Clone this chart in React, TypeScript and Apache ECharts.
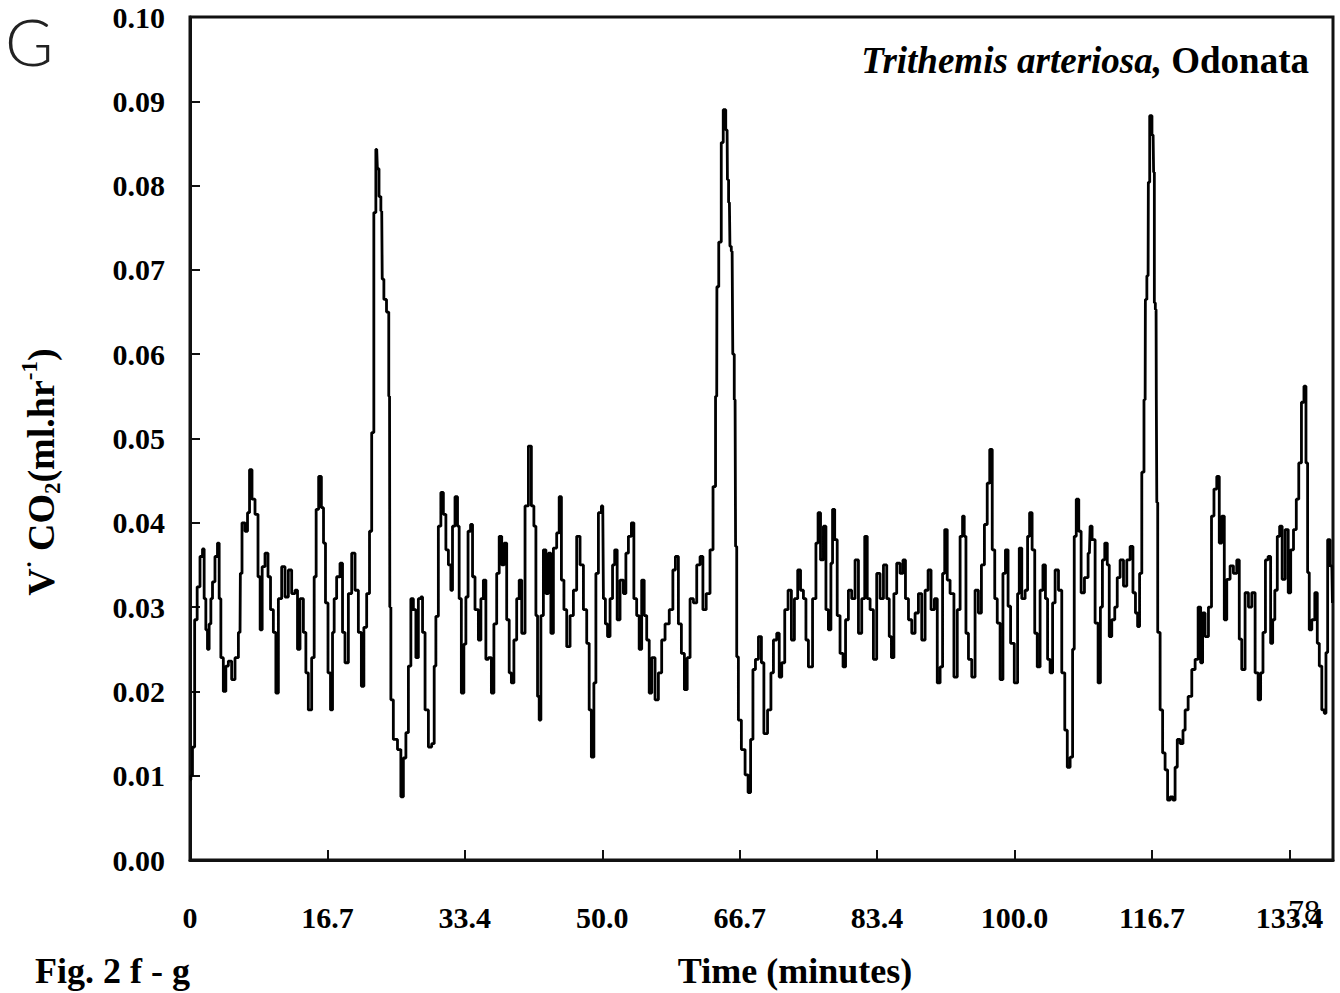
import React, { useEffect, useRef } from "react";
import * as echarts from "echarts";

// Time (minutes)
const TIME_MIN = [
  0.00, 0.20, 0.40, 0.73, 1.01, 1.42, 1.62, 1.82, 2.03, 2.22, 2.43, 2.64, 2.83, 3.24, 3.44, 3.65, 3.85, 4.25, 4.46, 4.86,
  5.26, 5.68, 6.08, 6.16, 6.48, 6.89, 7.09, 7.38, 7.69, 8.11, 8.42, 8.63, 8.91, 9.32, 9.64, 9.93, 10.33, 10.54, 10.94, 11.34,
  11.75, 12.15, 12.56, 12.97, 13.16, 13.58, 13.98, 14.18, 14.58, 14.99, 15.19, 15.47, 15.80, 16.13, 16.32, 16.61, 16.93, 17.22, 17.42, 17.62,
  18.02, 18.44, 18.63, 19.04, 19.45, 19.85, 20.26, 20.66, 20.99, 21.27, 21.67, 21.96, 22.20, 22.48, 22.69, 22.85, 23.09, 23.30, 23.42, 23.70,
  24.06, 24.25, 24.31, 24.51, 24.91, 25.52, 25.73, 26.13, 26.34, 26.74, 26.94, 27.35, 27.55, 27.95, 28.16, 28.36, 28.77, 29.17, 29.57, 29.78,
  29.98, 30.38, 30.59, 30.99, 31.20, 31.60, 31.80, 32.00, 32.41, 32.61, 32.81, 33.14, 33.42, 33.63, 33.95, 34.24, 34.43, 34.84, 35.25, 35.45,
  35.85, 36.06, 36.46, 36.79, 37.07, 37.47, 37.68, 38.08, 38.28, 38.69, 38.89, 39.22, 39.50, 39.90, 40.11, 40.51, 40.92, 41.32, 41.65, 41.93,
  42.14, 42.33, 42.54, 42.74, 43.15, 43.35, 43.75, 43.96, 44.36, 44.76, 44.97, 45.30, 45.58, 45.98, 46.39, 46.79, 47.19, 47.61, 48.01, 48.41,
  48.61, 48.94, 49.22, 49.43, 49.83, 50.16, 50.32, 50.64, 50.84, 51.25, 51.45, 51.77, 52.05, 52.47, 52.87, 53.07, 53.48, 53.80, 54.08, 54.48,
  54.69, 55.09, 55.30, 55.70, 55.91, 56.31, 56.72, 57.12, 57.52, 57.94, 58.54, 58.82, 59.15, 59.55, 59.88, 60.28, 60.56, 60.98, 61.38, 61.78,
  62.19, 62.47, 62.99, 63.40, 63.72, 64.01, 64.05, 64.46, 64.66, 64.94, 65.27, 65.35, 65.55, 65.68, 65.88, 66.04, 66.24, 66.36, 66.52, 66.76,
  67.25, 67.66, 67.98, 68.27, 68.55, 68.88, 69.28, 69.60, 69.88, 70.49, 70.70, 71.10, 71.50, 71.71, 72.11, 72.44, 72.92, 73.25, 73.65, 74.05,
  74.34, 74.75, 74.95, 75.35, 75.96, 76.17, 76.48, 76.77, 77.18, 77.38, 77.78, 77.99, 78.18, 78.51, 78.79, 79.20, 79.52, 79.81, 80.21, 80.61,
  81.03, 81.43, 81.83, 82.16, 82.44, 82.85, 83.25, 83.65, 84.07, 84.47, 84.87, 85.08, 85.40, 85.68, 86.08, 86.50, 86.78, 87.11, 87.51, 87.91,
  88.32, 88.72, 89.12, 89.54, 89.85, 90.26, 90.67, 90.95, 91.36, 91.55, 91.88, 92.16, 92.57, 93.10, 93.38, 93.79, 93.98, 94.19, 94.40, 94.80,
  95.20, 95.61, 96.01, 96.34, 96.74, 97.02, 97.35, 97.63, 97.96, 98.24, 98.65, 98.93, 99.26, 99.57, 99.87, 100.47, 100.67, 100.88, 101.28, 101.69,
  101.88, 102.18, 102.49, 102.82, 103.10, 103.51, 103.79, 104.12, 104.31, 104.73, 104.92, 105.34, 105.74, 106.14, 106.47, 106.75, 107.16, 107.35, 107.56, 107.84,
  108.17, 108.41, 108.98, 109.30, 109.47, 109.78, 110.20, 110.51, 110.76, 111.00, 111.33, 111.61, 111.81, 112.22, 112.54, 112.82, 113.24, 113.64, 114.04, 114.45,
  114.73, 115.06, 115.25, 115.54, 115.79, 116.07, 116.13, 116.43, 116.49, 116.76, 117.04, 117.16, 117.22, 117.40, 117.46, 117.52, 117.68, 118.10, 118.29, 118.70,
  118.90, 119.31, 119.59, 119.83, 120.12, 120.53, 120.81, 121.05, 121.54, 121.94, 122.35, 122.67, 122.96, 123.15, 123.56, 123.97, 124.30, 124.57, 124.98, 125.18,
  125.59, 125.79, 126.19, 126.60, 127.00, 127.41, 127.61, 128.01, 128.42, 128.83, 129.23, 129.64, 129.96, 130.25, 130.53, 130.85, 131.17, 131.47, 131.67, 131.99,
  132.27, 132.56, 132.88, 133.30, 133.62, 133.90, 134.30, 134.58, 134.90, 135.23, 135.51, 135.72, 135.91, 136.12, 136.53, 136.85, 137.13, 137.34, 137.74, 137.94,
  138.15, 138.35, 138.76, 138.90,
];

// V CO2 (ml/hr)
const VCO2 = [
  0.0095, 0.0100, 0.0134, 0.0285, 0.0324, 0.0360, 0.0369, 0.0310, 0.0273, 0.0250, 0.0280, 0.0310, 0.0330, 0.0360, 0.0376, 0.0310, 0.0240, 0.0200, 0.0230, 0.0236,
  0.0214, 0.0240, 0.0270, 0.0340, 0.0400, 0.0390, 0.0412, 0.0463, 0.0428, 0.0410, 0.0336, 0.0273, 0.0348, 0.0364, 0.0336, 0.0297, 0.0270, 0.0198, 0.0310, 0.0348,
  0.0312, 0.0344, 0.0316, 0.0320, 0.0250, 0.0310, 0.0270, 0.0222, 0.0178, 0.0240, 0.0336, 0.0416, 0.0455, 0.0418, 0.0376, 0.0305, 0.0222, 0.0178, 0.0270, 0.0310,
  0.0336, 0.0352, 0.0270, 0.0234, 0.0316, 0.0364, 0.0320, 0.0270, 0.0206, 0.0276, 0.0316, 0.0390, 0.0507, 0.0768, 0.0843, 0.0820, 0.0787, 0.0770, 0.0689, 0.0665,
  0.0650, 0.0550, 0.0300, 0.0190, 0.0143, 0.0131, 0.0075, 0.0121, 0.0151, 0.0230, 0.0310, 0.0297, 0.0240, 0.0310, 0.0312, 0.0270, 0.0178, 0.0134, 0.0138, 0.0230,
  0.0289, 0.0396, 0.0436, 0.0410, 0.0368, 0.0350, 0.0320, 0.0396, 0.0431, 0.0396, 0.0310, 0.0198, 0.0256, 0.0312, 0.0390, 0.0398, 0.0336, 0.0297, 0.0261, 0.0310,
  0.0332, 0.0238, 0.0240, 0.0198, 0.0280, 0.0340, 0.0384, 0.0350, 0.0376, 0.0285, 0.0222, 0.0210, 0.0261, 0.0310, 0.0332, 0.0269, 0.0420, 0.0491, 0.0420, 0.0396,
  0.0290, 0.0194, 0.0166, 0.0290, 0.0368, 0.0316, 0.0364, 0.0269, 0.0370, 0.0388, 0.0431, 0.0332, 0.0297, 0.0253, 0.0290, 0.0320, 0.0384, 0.0350, 0.0297, 0.0257,
  0.0178, 0.0122, 0.0210, 0.0340, 0.0412, 0.0420, 0.0310, 0.0280, 0.0265, 0.0310, 0.0350, 0.0368, 0.0285, 0.0332, 0.0316, 0.0364, 0.0384, 0.0400, 0.0310, 0.0290,
  0.0250, 0.0332, 0.0290, 0.0261, 0.0198, 0.0240, 0.0190, 0.0222, 0.0261, 0.0280, 0.0297, 0.0344, 0.0360, 0.0280, 0.0245, 0.0202, 0.0240, 0.0310, 0.0305, 0.0350,
  0.0360, 0.0297, 0.0316, 0.0368, 0.0443, 0.0550, 0.0680, 0.0733, 0.0851, 0.0890, 0.0866, 0.0807, 0.0780, 0.0728, 0.0722, 0.0600, 0.0546, 0.0372, 0.0241, 0.0166,
  0.0131, 0.0101, 0.0080, 0.0143, 0.0226, 0.0238, 0.0265, 0.0234, 0.0150, 0.0178, 0.0222, 0.0261, 0.0269, 0.0217, 0.0234, 0.0297, 0.0320, 0.0261, 0.0310, 0.0344,
  0.0320, 0.0310, 0.0261, 0.0229, 0.0310, 0.0376, 0.0412, 0.0356, 0.0396, 0.0297, 0.0273, 0.0352, 0.0416, 0.0380, 0.0290, 0.0245, 0.0229, 0.0285, 0.0320, 0.0310,
  0.0356, 0.0269, 0.0310, 0.0384, 0.0310, 0.0297, 0.0238, 0.0340, 0.0310, 0.0350, 0.0310, 0.0265, 0.0240, 0.0316, 0.0352, 0.0340, 0.0356, 0.0310, 0.0285, 0.0269,
  0.0293, 0.0316, 0.0261, 0.0320, 0.0344, 0.0297, 0.0310, 0.0210, 0.0229, 0.0340, 0.0392, 0.0332, 0.0316, 0.0217, 0.0297, 0.0384, 0.0408, 0.0384, 0.0269, 0.0238,
  0.0217, 0.0320, 0.0293, 0.0350, 0.0398, 0.0447, 0.0487, 0.0368, 0.0310, 0.0281, 0.0214, 0.0340, 0.0368, 0.0301, 0.0257, 0.0210, 0.0316, 0.0370, 0.0310, 0.0320,
  0.0384, 0.0412, 0.0368, 0.0269, 0.0229, 0.0320, 0.0350, 0.0310, 0.0238, 0.0222, 0.0305, 0.0344, 0.0320, 0.0222, 0.0154, 0.0110, 0.0122, 0.0250, 0.0384, 0.0428,
  0.0390, 0.0317, 0.0335, 0.0364, 0.0396, 0.0380, 0.0281, 0.0210, 0.0300, 0.0356, 0.0376, 0.0350, 0.0265, 0.0285, 0.0300, 0.0335, 0.0356, 0.0325, 0.0356, 0.0372,
  0.0317, 0.0293, 0.0277, 0.0340, 0.0460, 0.0546, 0.0665, 0.0693, 0.0804, 0.0883, 0.0860, 0.0816, 0.0661, 0.0653, 0.0546, 0.0424, 0.0270, 0.0178, 0.0127, 0.0107,
  0.0071, 0.0075, 0.0071, 0.0110, 0.0143, 0.0138, 0.0154, 0.0178, 0.0194, 0.0226, 0.0238, 0.0300, 0.0234, 0.0293, 0.0265, 0.0300, 0.0408, 0.0440, 0.0455, 0.0376,
  0.0408, 0.0285, 0.0333, 0.0349, 0.0340, 0.0356, 0.0262, 0.0226, 0.0317, 0.0300, 0.0317, 0.0222, 0.0190, 0.0222, 0.0270, 0.0356, 0.0360, 0.0257, 0.0285, 0.0320,
  0.0384, 0.0396, 0.0333, 0.0392, 0.0317, 0.0368, 0.0392, 0.0428, 0.0471, 0.0543, 0.0562, 0.0471, 0.0341, 0.0273, 0.0285, 0.0317, 0.0257, 0.0230, 0.0178, 0.0174,
  0.0246, 0.0380, 0.0349, 0.0305,
];

const X_TICK_LABELS = ["0", "16.7", "33.4", "50.0", "66.7", "83.4", "100.0", "116.7", "133.4"];
const X_INTERVAL = 16.7;
const X_MAX = 138.9;
const Y_MIN = 0;
const Y_MAX = 0.1;
const Y_INTERVAL = 0.01;

const SPECIES = "Trithemis arteriosa,";
const ORDER = "Odonata";
const PANEL = "G";
const FIG_LABEL = "Fig. 2 f - g";
const X_TITLE = "Time (minutes)";
const PAGE_NO = "78";

const SERIF = "'Liberation Serif', 'Times New Roman', serif";

export default function App() {
  const ref = useRef<HTMLDivElement>(null);

  useEffect(() => {
    if (!ref.current) return;
    const chart = echarts.init(ref.current, undefined, { renderer: "svg" });
    const data = TIME_MIN.map((t, i) => [t, VCO2[i]]);

    chart.setOption({
      animation: false,
      backgroundColor: "#ffffff",
      grid: {
        left: 190,
        right: 7,
        top: 17,
        bottom: 133,
        show: true,
        borderColor: "#111",
        borderWidth: 3,
        backgroundColor: "transparent",
      },
      xAxis: {
        type: "value",
        min: 0,
        max: X_MAX,
        interval: X_INTERVAL,
        splitLine: { show: false },
        axisLine: { show: true, lineStyle: { color: "#111", width: 3 } },
        axisTick: { show: true, inside: true, length: 10, lineStyle: { color: "#111", width: 2 } },
        axisLabel: {
          showMaxLabel: false,
          margin: 42,
          color: "#000",
          fontFamily: SERIF,
          fontWeight: "bold",
          fontSize: 30,
          formatter: (v: number) => {
            const k = Math.round(v / X_INTERVAL);
            if (Math.abs(v - k * X_INTERVAL) > 0.01) return "";
            return X_TICK_LABELS[k] ?? "";
          },
        },
      },
      yAxis: {
        type: "value",
        min: Y_MIN,
        max: Y_MAX,
        interval: Y_INTERVAL,
        splitLine: { show: false },
        axisLine: { show: true, lineStyle: { color: "#111", width: 3 } },
        axisTick: { show: true, inside: true, length: 10, lineStyle: { color: "#111", width: 2 } },
        axisLabel: {
          margin: 25,
          color: "#000",
          fontFamily: SERIF,
          fontWeight: "bold",
          fontSize: 30,
          formatter: (v: number) => v.toFixed(2),
        },
      },
      series: [
        {
          type: "line",
          data,
          step: "middle",
          symbol: "none",
          lineStyle: { color: "#000", width: 2.8 },
          silent: true,
        },
      ],
      graphic: [
        {
          type: "text",
          x: 5,
          y: 40,
          style: {
            text: PANEL,
            fill: "#222",
            fontFamily: "Lato, 'DejaVu Sans', sans-serif",
            fontWeight: 300,
            fontSize: 66,
            align: "left",
            verticalAlign: "middle",
          },
        },
        {
          type: "text",
          x: 1309,
          y: 60,
          style: {
            text: `{i|${SPECIES}}{b| ${ORDER}}`,
            align: "right",
            verticalAlign: "middle",
            rich: {
              i: { fontFamily: SERIF, fontStyle: "italic", fontWeight: "bold", fontSize: 37, fill: "#000" },
              b: { fontFamily: SERIF, fontWeight: "bold", fontSize: 37, fill: "#000" },
            },
          },
        },
        {
          type: "text",
          x: 41,
          y: 472,
          rotation: Math.PI / 2,
          style: {
            text: "{b|V}{sup|·}{b| CO}{sub|2}{b|(ml.hr}{sup|-1}{b|)}",
            align: "center",
            verticalAlign: "middle",
            rich: {
              b: { fontFamily: SERIF, fontWeight: "bold", fontSize: 38, fill: "#000", lineHeight: 46, verticalAlign: "middle" },
              sup: { fontFamily: SERIF, fontWeight: "bold", fontSize: 23, fill: "#000", lineHeight: 46, verticalAlign: "top" },
              sub: { fontFamily: SERIF, fontWeight: "bold", fontSize: 23, fill: "#000", lineHeight: 46, verticalAlign: "bottom" },
            },
          },
        },
        {
          type: "text",
          x: 35,
          y: 971,
          style: {
            text: FIG_LABEL,
            fill: "#000",
            fontFamily: SERIF,
            fontWeight: "bold",
            fontSize: 36,
            align: "left",
            verticalAlign: "middle",
          },
        },
        {
          type: "text",
          x: 795,
          y: 971,
          style: {
            text: X_TITLE,
            fill: "#000",
            fontFamily: SERIF,
            fontWeight: "bold",
            fontSize: 36,
            align: "center",
            verticalAlign: "middle",
          },
        },
        {
          type: "text",
          x: 1304,
          y: 911,
          style: {
            text: PAGE_NO,
            fill: "#000",
            fontFamily: SERIF,
            fontWeight: "normal",
            fontSize: 32,
            align: "center",
            verticalAlign: "middle",
          },
        },
      ],
    });

    return () => chart.dispose();
  }, []);

  return (
    <div
      ref={ref}
      style={{ position: "absolute", left: 0, top: 0, width: 1340, height: 993, background: "#fff" }}
    />
  );
}
